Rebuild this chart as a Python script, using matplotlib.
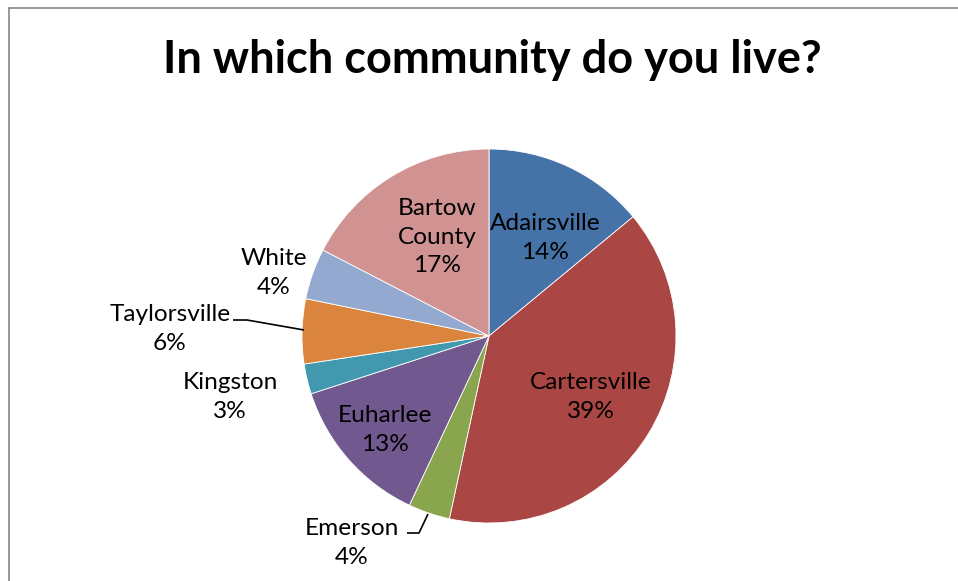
import matplotlib
matplotlib.use("Agg")
import matplotlib.pyplot as plt
import numpy as np

# Data
categories = ["Adairsville", "Cartersville", "Emerson", "Euharlee",
              "Kingston", "Taylorsville", "White", "Bartow\nCounty"]
values = [14.0, 39.4, 3.6, 13.0, 2.6, 5.6, 4.4, 17.4]
colors = ["#4572A7", "#AA4643", "#89A54E", "#71588F",
          "#4198AF", "#DB843D", "#93A9CF", "#D19392"]
title = "In which community do you live?"

W, H = 958, 581
CX, CY, R = 489, 336, 187

fig = plt.figure(figsize=(W / 100, H / 100), dpi=100)
ax = fig.add_axes([0, 0, 1, 1])
ax.axis("off")

wedges, _ = ax.pie(values, colors=colors, startangle=90, counterclock=False,
                   radius=1.0, center=(0, 0),
                   wedgeprops=dict(edgecolor="white", linewidth=0.6))
ax.set_xlim(-CX / R, (W - CX) / R)
ax.set_ylim(-(H - CY) / R, CY / R)

def px(x, y):
    return (x - CX) / R, (CY - y) / R

# label centre positions (pixels)
label_pos = [(545, 238), (591, 397), (352, 543), (385, 430),
             (230, 397), (170, 329), (274, 273), (437, 237)]

font = ["Lato", "DejaVu Sans"]
total = sum(values)
for cat, v, (lx, ly) in zip(categories, values, label_pos):
    x, y = px(lx, ly)
    ax.text(x, y, f"{cat}\n{round(v / total * 100):.0f}%", ha="center", va="center",
            fontsize=17.6, family=font, color="black", linespacing=1.42)

# leader lines
def leader(points):
    xs, ys = zip(*[px(a, b) for a, b in points])
    ax.plot(xs, ys, color="black", lw=1.2, solid_capstyle="butt")

leader([(233, 320), (247, 320), (304, 330)])
leader([(407, 533), (419, 533), (428, 514)])

fig.text(492 / W, 1 - 60 / H, title, ha="center", va="center",
         fontsize=32.5, fontweight="bold", family=font)

# frame
fig.add_artist(plt.Line2D([8.5 / W, 8.5 / W], [0, 1 - 7.5 / H], color="#878787",
                          lw=1.2, transform=fig.transFigure))
fig.add_artist(plt.Line2D([8.5 / W, 1], [1 - 7.5 / H, 1 - 7.5 / H], color="#878787",
                          lw=1.2, transform=fig.transFigure))

fig.savefig("out.png", dpi=100, facecolor="white")
